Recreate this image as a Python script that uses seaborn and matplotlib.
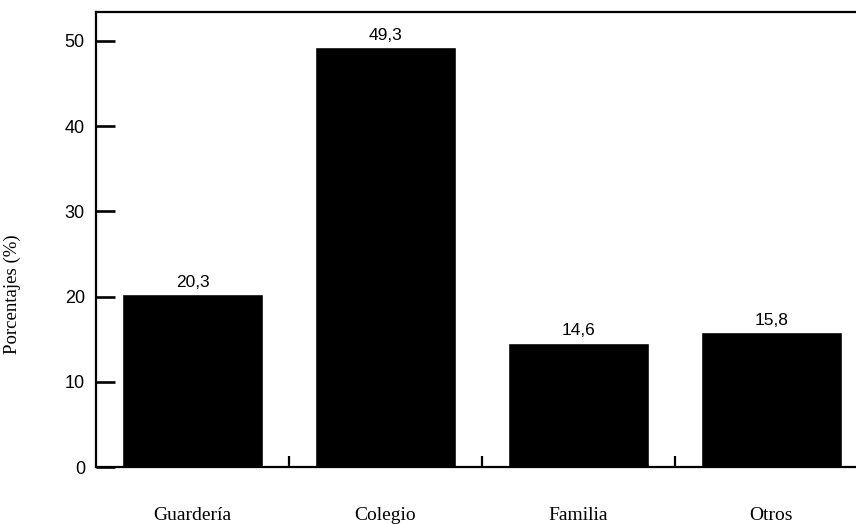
# Bar chart: percentage by care setting
import matplotlib
matplotlib.use('Agg')
import matplotlib.pyplot as plt
import seaborn as sns

# Data
categorias = ['Guardería', 'Colegio', 'Familia', 'Otros']
porcentajes = [20.3, 49.3, 14.6, 15.8]
etiquetas = ['20,3', '49,3', '14,6', '15,8']
yticks = [0, 10, 20, 30, 40, 50]

sns.set_theme(style='white')
plt.rcParams['font.family'] = ['Liberation Sans', 'DejaVu Sans']
plt.rcParams['text.color'] = 'black'
plt.rcParams['axes.labelcolor'] = 'black'
plt.rcParams['xtick.color'] = 'black'
plt.rcParams['ytick.color'] = 'black'

fig = plt.figure(figsize=(8.56, 5.24), dpi=100)
ax = fig.add_axes([96 / 856, 57 / 524, 772 / 856, 455 / 524])

sns.barplot(x=categorias, y=porcentajes, color='black', saturation=1,
            width=0.73, ax=ax)

# value labels above bars
for cont in ax.containers:
    ax.bar_label(cont, labels=etiquetas, padding=3, fontsize=12.5,
                 family='Liberation Sans', color='black')

ax.set_xlim(-0.5, 3.5)
ax.set_ylim(0, 53.4)
ax.set_yticks(yticks)
ax.set_yticklabels([str(v) for v in yticks], fontsize=13, family='Liberation Sans')

# category labels well below the axis, tick marks between bars
ax.tick_params(axis='x', which='major', length=0, pad=29)
for lab in ax.get_xticklabels():
    lab.set_family('Liberation Serif')
    lab.set_fontsize(14)
ax.set_xticks([0.5, 1.5, 2.5], minor=True)
ax.tick_params(axis='x', which='minor', direction='in', length=8, width=1.6,
               color='black', bottom=True)
ax.tick_params(axis='y', direction='in', length=14, width=1.9, color='black',
               left=True, pad=8)

ax.set_ylabel('Porcentajes (%)', fontsize=13.5, family='Liberation Serif')
ax.yaxis.set_label_coords(-0.097, 0.38)
ax.set_xlabel('')

for side in ['left', 'top', 'bottom']:
    ax.spines[side].set_visible(True)
    ax.spines[side].set_color('black')
    ax.spines[side].set_linewidth(1.6)
ax.spines['right'].set_visible(False)
ax.grid(False)

fig.savefig('out.png', dpi=100)
